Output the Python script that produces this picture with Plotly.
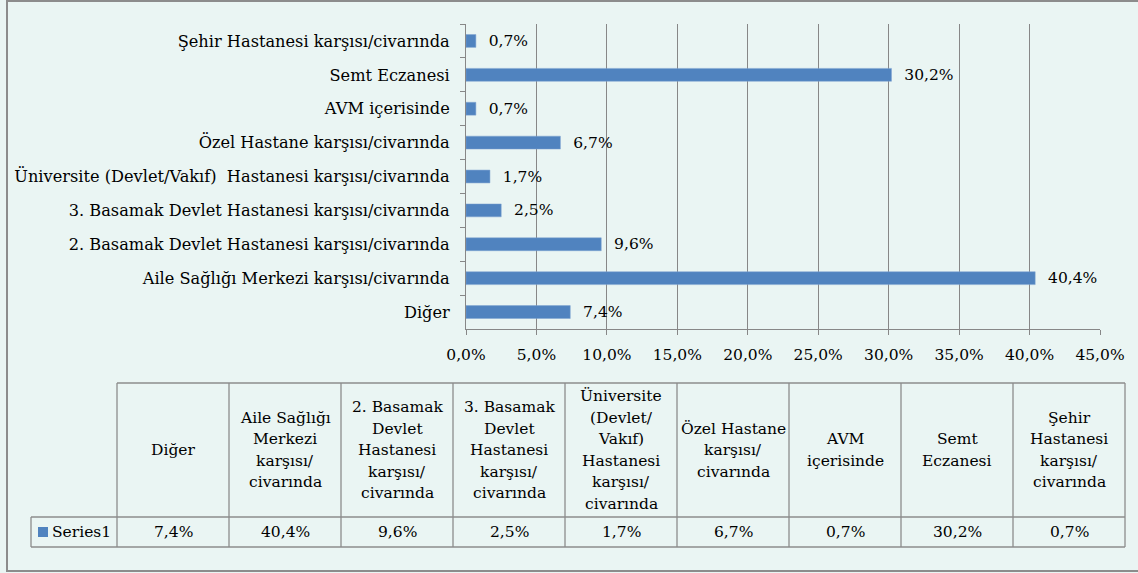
import plotly.graph_objects as go

# ---------------- data ----------------
categories = [
    "Diğer",
    "Aile Sağlığı Merkezi karşısı/civarında",
    "2. Basamak Devlet Hastanesi karşısı/civarında",
    "3. Basamak Devlet Hastanesi karşısı/civarında",
    "Üniversite (Devlet/Vakıf)  Hastanesi karşısı/civarında",
    "Özel Hastane karşısı/civarında",
    "AVM içerisinde",
    "Semt Eczanesi",
    "Şehir Hastanesi karşısı/civarında",
]
values = [7.4, 40.4, 9.6, 2.5, 1.7, 6.7, 0.7, 30.2, 0.7]
table_headers = [
    ["Diğer"],
    ["Aile Sağlığı", "Merkezi", "karşısı/", "civarında"],
    ["2. Basamak", "Devlet", "Hastanesi", "karşısı/", "civarında"],
    ["3. Basamak", "Devlet", "Hastanesi", "karşısı/", "civarında"],
    ["Üniversite", "(Devlet/", "Vakıf)", "Hastanesi", "karşısı/", "civarında"],
    ["Özel Hastane", "karşısı/", "civarında"],
    ["AVM", "içerisinde"],
    ["Semt", "Eczanesi"],
    ["Şehir", "Hastanesi", "karşısı/", "civarında"],
]
series_name = "Series1"
x_ticks = [0, 5, 10, 15, 20, 25, 30, 35, 40, 45]
x_tick_labels = ["0,0%", "5,0%", "10,0%", "15,0%", "20,0%", "25,0%", "30,0%", "35,0%", "40,0%", "45,0%"]

# ---------------- style ----------------
W, H = 1138, 573
BG = "#EAF5F3"
BAR = "#5083BF"
GRID = "#878787"
FONT = "DejaVu Serif"
FS = 15.5
FS_Y = 16.2


def px(x):
    return x / W


def py(y):
    return 1 - y / H


fig = go.Figure()
fig.add_trace(go.Bar(
    y=categories,
    x=values,
    orientation="h",
    marker=dict(color=BAR, line=dict(color="#7FA3D0", width=0.5)),
    texttemplate="\u00a0\u00a0%{x:.1f}%",
    textposition="outside",
    textfont=dict(family=FONT, size=FS, color="#000000"),
    constraintext="none",
    cliponaxis=False,
    showlegend=False,
    hoverinfo="skip",
))

shapes = []
annotations = []

# outer frame
shapes.append(dict(type="rect", xref="paper", yref="paper",
                   x0=px(7), x1=px(1150), y0=py(571), y1=py(1),
                   line=dict(color="#8C8C8C", width=2), layer="below"))

# data table geometry
col_left = 117
col_w = 112
n = len(categories)
table_right = col_left + n * col_w
top_y, mid_y, bot_y = 383, 517, 547
leg_left = 31
TL = dict(color="#8C8C8C", width=1.3)

shapes.append(dict(type="line", xref="paper", yref="paper",
                   x0=px(col_left), x1=px(table_right), y0=py(top_y), y1=py(top_y), line=TL))
shapes.append(dict(type="line", xref="paper", yref="paper",
                   x0=px(leg_left), x1=px(table_right), y0=py(mid_y), y1=py(mid_y), line=TL))
shapes.append(dict(type="line", xref="paper", yref="paper",
                   x0=px(leg_left), x1=px(table_right), y0=py(bot_y), y1=py(bot_y), line=TL))
shapes.append(dict(type="line", xref="paper", yref="paper",
                   x0=px(leg_left), x1=px(leg_left), y0=py(mid_y), y1=py(bot_y), line=TL))
for i in range(n + 1):
    xx = col_left + i * col_w
    shapes.append(dict(type="line", xref="paper", yref="paper",
                       x0=px(xx), x1=px(xx), y0=py(top_y), y1=py(bot_y), line=TL))

# legend key
shapes.append(dict(type="rect", xref="paper", yref="paper",
                   x0=px(38), x1=px(48), y0=py(537), y1=py(527),
                   fillcolor=BAR, line=dict(width=0)))
annotations.append(dict(xref="paper", yref="paper", x=px(50), y=py(532),
                        text=series_name, showarrow=False, xanchor="left", yanchor="middle",
                        font=dict(family=FONT, size=FS, color="#000000")))

LINE_H = 21.5
hdr_center = (top_y + mid_y) / 2
val_center = (mid_y + bot_y) / 2
for i, (lines, v) in enumerate(zip(table_headers, values)):
    cx = col_left + i * col_w + col_w / 2
    k = len(lines)
    for j, t in enumerate(lines):
        yy = hdr_center + (j - (k - 1) / 2) * LINE_H
        annotations.append(dict(xref="paper", yref="paper", x=px(cx), y=py(yy),
                                text=t, showarrow=False, xanchor="center", yanchor="middle",
                                font=dict(family=FONT, size=FS, color="#000000")))
    annotations.append(dict(xref="paper", yref="paper", x=px(cx), y=py(val_center),
                            text=f"{v:.1f}%".replace(".", ","), showarrow=False,
                            xanchor="center", yanchor="middle",
                            font=dict(family=FONT, size=FS, color="#000000")))

fig.update_layout(
    width=W, height=H, autosize=False,
    margin=dict(l=0, r=0, t=0, b=0, pad=0, autoexpand=False),
    paper_bgcolor=BG, plot_bgcolor=BG,
    separators=",.",
    bargap=0.62,
    font=dict(family=FONT, size=FS, color="#000000"),
    shapes=shapes,
    annotations=annotations,
    xaxis=dict(
        domain=[px(466), px(1100)],
        range=[0, 45],
        tickmode="array",
        tickvals=x_ticks,
        ticktext=x_tick_labels,
        showgrid=True, gridcolor=GRID, gridwidth=1,
        showline=True, linecolor=GRID, linewidth=1,
        ticks="outside", ticklen=5, tickcolor=GRID,
        ticklabelstandoff=6,
        zeroline=False,
        automargin=False,
        tickfont=dict(family=FONT, size=FS, color="#000000"),
        fixedrange=True,
    ),
    yaxis=dict(
        domain=[py(329), py(24)],
        categoryorder="array", categoryarray=categories,
        showline=True, linecolor=GRID, linewidth=1,
        ticks="outside", ticklen=5, tickcolor=GRID, tickson="boundaries",
        showgrid=False, zeroline=False,
        ticklabelstandoff=12,
        automargin=False,
        tickfont=dict(family=FONT, size=FS_Y, color="#000000"),
        fixedrange=True,
    ),
)

fig.write_html("out.html", config={"displayModeBar": False, "responsive": False},
               post_script="document.body.style.margin='0';document.body.style.overflow='hidden';")
